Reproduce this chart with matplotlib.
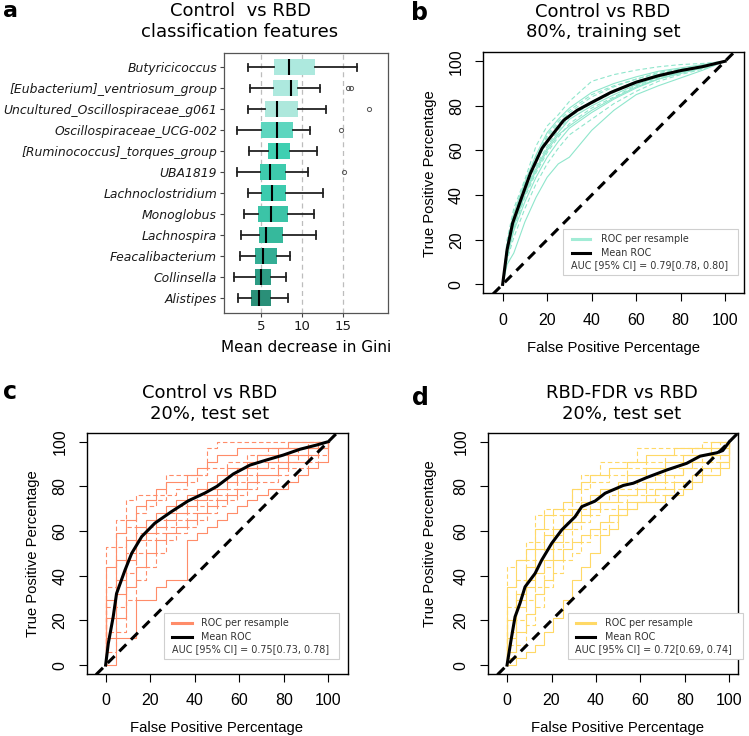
import matplotlib

matplotlib.use("Agg")
import matplotlib.pyplot as plt
from matplotlib.lines import Line2D
from matplotlib.patches import Rectangle

plt.rcParams["font.family"] = "DejaVu Sans"

# ---- panel a: feature importance (mean decrease in Gini) ----
features = [
    "Butyricicoccus", "[Eubacterium]_ventriosum_group",
    "Uncultured_Oscillospiraceae_g061", "Oscillospiraceae_UCG-002",
    "[Ruminococcus]_torques_group", "UBA1819", "Lachnoclostridium",
    "Monoglobus", "Lachnospira", "Feacalibacterium", "Collinsella", "Alistipes",
]
gini_whislo = [3.4, 3.6, 3.4, 2.1, 3.5, 2.1, 3.4, 2.9, 2.5, 2.4, 1.7, 2.2]
gini_q1 = [6.6, 6.5, 5.5, 5.0, 5.8, 4.9, 5.0, 4.6, 4.7, 4.25, 4.3, 3.8]
gini_med = [8.4, 8.7, 7.0, 6.9, 7.0, 6.1, 6.4, 6.2, 5.6, 5.3, 5.0, 4.7]
gini_q3 = [11.6, 9.5, 9.5, 8.9, 8.5, 8.0, 8.1, 8.25, 7.7, 6.9, 6.2, 6.2]
gini_whishi = [16.75, 12.25, 13.0, 11.0, 11.9, 10.7, 12.6, 11.5, 11.75, 8.5, 8.0, 8.3]
gini_fliers = [[], [15.6, 16.0], [18.2], [14.8], [], [15.1], [], [], [], [], [], []]
box_colors = ["#ade9de", "#ade9de", "#ade8dc", "#5ed6bf", "#3fcfb1", "#3ecbad",
              "#3ccbae", "#3bc4a7", "#36b99c", "#33ad94", "#2d9c84", "#2a8f78"]
gini_ticks = [5, 10, 15]

# ---- panel b: 80% training set ----
b_fpr = [0, 2, 5, 10, 15, 20, 25, 30, 40, 50, 60, 70, 80, 90, 100]
b_resamples = [
    [0, 20, 34, 47, 62, 71, 76, 82, 91, 94, 96, 97.5, 98.5, 99, 100],
    [0, 18, 32, 46, 58, 68, 74, 79, 86, 90, 93, 95.5, 97, 98.5, 100],
    [0, 17, 31, 45, 57, 66, 72, 77, 84, 88.5, 92, 95, 96.5, 98, 100],
    [0, 16, 30, 44, 55, 64, 71, 76, 82, 87, 91, 94, 96, 98, 100],
    [0, 15, 28, 42, 53, 62, 69, 75, 81, 86, 90, 93, 95.5, 97.5, 100],
    [0, 14, 27, 41, 52, 61, 68, 74, 80, 85, 89.5, 93, 95.5, 97.5, 100],
    [0, 13, 25, 39, 50, 59, 66, 72, 79, 84, 89, 92.5, 95, 97, 100],
    [0, 12, 24, 37, 48, 57, 64, 70, 77, 83, 88, 92, 94.5, 97, 100],
    [0, 11, 21, 34, 45, 54, 61, 67, 74, 81, 86.5, 91, 94, 96.5, 100],
    [0, 9, 14, 28, 39, 48, 54, 57, 69, 78, 85, 89, 92.5, 96, 100],
    [0, 17, 30, 43, 56, 67, 73, 78, 85, 89, 92, 94.5, 96.5, 98, 100],
    [0, 14, 26, 40, 51, 60, 67, 71, 78, 83.5, 88.5, 92, 95, 97.5, 100],
]
b_mean_fpr = [0, 2, 4.5, 8.7, 12.5, 17.7, 21.5, 27.5, 33.5, 40, 48.6, 60, 70, 80, 90, 100]
b_mean_tpr = [0, 15.6, 27.5, 39.4, 49.8, 61, 66, 73.6, 78, 81.5, 86, 90.6, 93.5, 95.8, 97.6, 100]

# ---- panel c: 20% test set, Control vs RBD ----
c_fpr = [0, 4.55, 9.09, 13.64, 18.18, 22.73, 27.27, 31.82, 36.36, 40.91, 45.45, 50,
         54.55, 59.09, 63.64, 68.18, 72.73, 77.27, 81.82, 86.36, 90.91, 95.45, 100]
c_resamples = [
    [53, 65, 74, 76, 76, 76, 85, 85, 85, 85, 97, 100, 100, 100, 100, 100, 100, 100, 100, 100, 100, 100, 100],
    [44, 59, 65, 71, 74, 79, 82, 82, 85, 88, 91, 94, 94, 97, 97, 97, 97, 97, 100, 100, 100, 100, 100],
    [35, 53, 62, 68, 71, 74, 76, 79, 82, 85, 88, 88, 91, 91, 94, 94, 97, 97, 97, 97, 100, 100, 100],
    [29, 47, 56, 62, 65, 68, 71, 74, 76, 79, 82, 85, 88, 88, 91, 94, 94, 97, 97, 97, 97, 100, 100],
    [26, 38, 50, 59, 62, 65, 68, 71, 74, 76, 79, 82, 85, 88, 88, 91, 91, 94, 94, 97, 97, 100, 100],
    [21, 32, 47, 56, 59, 62, 65, 68, 71, 74, 76, 79, 82, 85, 88, 88, 91, 91, 94, 94, 97, 97, 100],
    [15, 26, 41, 50, 56, 59, 62, 65, 68, 71, 74, 76, 79, 82, 85, 88, 88, 91, 91, 94, 94, 97, 100],
    [12, 21, 35, 44, 50, 56, 59, 62, 65, 68, 71, 74, 76, 79, 82, 85, 85, 88, 91, 91, 94, 97, 100],
    [6, 15, 29, 38, 44, 50, 56, 59, 62, 65, 68, 71, 74, 76, 79, 82, 82, 85, 88, 88, 91, 94, 100],
    [0, 12, 12, 29, 29, 35, 38, 38, 56, 59, 62, 65, 68, 71, 74, 76, 79, 79, 82, 85, 88, 91, 100],
]
c_mean_fpr = [0, 1.2, 3.4, 4.9, 8.7, 11.7, 16.2, 22.1, 29.6, 37.1, 44.6, 50, 57.3,
              64.8, 72.3, 79.8, 87.3, 94.8, 100]
c_mean_tpr = [0, 9.7, 21.6, 32, 42.5, 50, 57.5, 63.5, 68.7, 73.5, 77, 80, 85.5,
              89.5, 91.8, 94, 96.6, 98.5, 100]

# ---- panel d: 20% test set, RBD-FDR vs RBD ----
d_fpr = [0, 4.17, 8.33, 12.5, 16.67, 20.83, 25, 29.17, 33.33, 37.5, 41.67, 45.83, 50,
         54.17, 58.33, 62.5, 66.67, 70.83, 75, 79.17, 83.33, 87.5, 91.67, 95.83, 100]
d_resamples = [
    [44, 47, 55, 67, 70, 70, 70, 79, 85, 85, 91, 91, 91, 91, 97, 97, 97, 97, 97, 97, 97, 100, 100, 100, 100],
    [35, 47, 52, 61, 67, 70, 73, 79, 82, 85, 85, 88, 88, 91, 91, 94, 94, 94, 97, 97, 97, 97, 100, 100, 100],
    [26, 38, 47, 55, 61, 67, 70, 73, 79, 82, 82, 85, 85, 88, 88, 91, 91, 94, 94, 94, 97, 97, 97, 100, 100],
    [20, 32, 44, 52, 58, 61, 67, 70, 73, 76, 79, 79, 82, 85, 85, 88, 88, 91, 91, 94, 94, 94, 97, 97, 100],
    [15, 29, 38, 47, 52, 58, 64, 67, 70, 73, 73, 76, 79, 79, 82, 82, 85, 88, 88, 91, 91, 94, 94, 97, 100],
    [12, 26, 35, 41, 47, 55, 61, 64, 67, 70, 73, 73, 76, 76, 79, 82, 82, 85, 85, 88, 91, 91, 94, 94, 100],
    [9, 20, 29, 35, 44, 52, 55, 61, 64, 67, 70, 70, 73, 76, 76, 79, 79, 82, 85, 88, 88, 91, 91, 94, 100],
    [6, 15, 23, 32, 38, 47, 52, 55, 58, 61, 64, 67, 70, 73, 73, 76, 79, 79, 82, 82, 85, 88, 88, 91, 100],
    [3, 9, 18, 26, 35, 41, 47, 50, 55, 58, 61, 64, 67, 70, 73, 73, 76, 76, 79, 82, 85, 85, 88, 91, 100],
    [0, 3, 6, 9, 15, 21, 29, 38, 44, 50, 58, 61, 67, 70, 73, 73, 73, 76, 76, 79, 82, 85, 85, 88, 100],
]
d_mean_fpr = [0, 1.8, 3.6, 5.8, 8.1, 12.6, 15.6, 20.1, 24.6, 30.6, 33.6, 39.6, 44.1,
              52.3, 56.8, 63, 71.8, 80.8, 86.8, 94.3, 97, 100]
d_mean_tpr = [0, 11.2, 21.6, 27.6, 35, 41, 47, 54.5, 60.5, 66.4, 70.9, 73.4, 76.9,
              80.4, 81.4, 84, 87.3, 90.3, 93.5, 95, 96, 100]

roc_ticks = [0, 20, 40, 60, 80, 100]

W, H = 749, 736
fig = plt.figure(figsize=(W / 100, H / 100), dpi=100)


def fx(px):
    return px / W


def fy(py):
    return 1 - py / H


def axes_px(left, top, right, bottom):
    return fig.add_axes([fx(left), fy(bottom), (right - left) / W, (bottom - top) / H])


def ftext(px, py, s, **kw):
    fig.text(fx(px), fy(py), s, ha=kw.pop("ha", "center"), va=kw.pop("va", "center"), **kw)


# ---------------- panel a ----------------
ax = axes_px(224, 52.7, 387.7, 312.7)
pos = list(range(1, len(features) + 1))
stats = []
for i, name in enumerate(features):
    stats.append(dict(label=name, med=gini_med[i], q1=gini_q1[i], q3=gini_q3[i],
                      whislo=gini_whislo[i], whishi=gini_whishi[i], fliers=gini_fliers[i]))
for g in gini_ticks:
    ax.axvline(g, color="#bdbdbd", lw=0.9, ls=(0, (4, 3)), zorder=0)
bp = ax.bxp(stats, positions=pos, widths=0.76, orientation="horizontal", patch_artist=True,
            capwidths=0.36,
            boxprops=dict(linewidth=0),
            medianprops=dict(color="black", linewidth=1.5),
            whiskerprops=dict(color="#222222", linewidth=1.3),
            capprops=dict(color="#222222", linewidth=1.3),
            flierprops=dict(marker="o", markerfacecolor="none", markeredgecolor="#555555",
                            markersize=3, markeredgewidth=0.7))
for patch, col in zip(bp["boxes"], box_colors):
    patch.set_facecolor(col)
    patch.set_edgecolor(col)
ax.set_xlim(0.47, 20.5)
ax.set_ylim(12.7, 0.3)
ax.set_xticks(gini_ticks)
ax.set_xticklabels([str(t) for t in gini_ticks], fontsize=9.5, color="#1a1a1a")
ax.set_yticks(pos)
ax.set_yticklabels(features, fontsize=8.95, style="italic", color="#1a1a1a")
ax.tick_params(axis="both", length=3, width=0.8, color="#444444", pad=2)
for s in ax.spines.values():
    s.set_color("#555555")
    s.set_linewidth(0.9)
ftext(306, 348, "Mean decrease in Gini", fontsize=11)
ftext(240, 11.5, "Control  vs RBD", fontsize=13)
ftext(240, 32.3, "classification features", fontsize=13)
ftext(10, 11, "a", fontsize=16, fontweight="bold")


# ---------------- ROC panels ----------------
def roc_panel(box, xlim, fpr, curves, color, mfpr, mtpr, steps):
    ax = axes_px(*box)
    for i, tpr in enumerate(curves):
        ls = "-" if i % 2 else (0, (4, 2.5))
        if steps:
            ax.plot([0] + fpr, [0] + tpr, drawstyle="steps-post", color=color, lw=0.8, ls=ls, zorder=1)
        else:
            ax.plot(fpr, tpr, color=color, lw=0.8, ls=ls, zorder=1)
    ax.plot([-20, 120], [-20, 120], color="black", lw=2.2, dashes=(3.2, 2.2), zorder=2)
    ax.plot(mfpr, mtpr, color="black", lw=2.2, zorder=3, solid_joinstyle="round")
    ax.set_xlim(*xlim)
    ax.set_ylim(-4, 104)
    ax.set_xticks(roc_ticks)
    ax.set_yticks(roc_ticks)
    ax.set_xticklabels([str(t) for t in roc_ticks], fontsize=11.5, family="Liberation Sans")
    ax.set_yticklabels([str(t) for t in roc_ticks], fontsize=11.5, family="Liberation Sans",
                       rotation=90, va="center")
    ax.tick_params(axis="both", length=6, width=0.8, pad=8)
    for s in ax.spines.values():
        s.set_linewidth(1.0)
    return ax


def roc_legend(left, top, right, bottom, lx0, lx1, tx, ax0, color, auc):
    fig.add_artist(Rectangle((fx(left), fy(bottom)), (right - left) / W, (bottom - top) / H,
                             transform=fig.transFigure, facecolor="white", edgecolor="#cfcfcf",
                             linewidth=0.8, zorder=5))
    rows = [top + 9.5, top + 24, top + 35.5]
    fig.add_artist(Line2D([fx(lx0), fx(lx1)], [fy(rows[0])] * 2, color=color, lw=2.2, zorder=6))
    fig.add_artist(Line2D([fx(lx0), fx(lx1)], [fy(rows[1])] * 2, color="black", lw=2.2, zorder=6))
    ftext(tx, rows[0], "ROC per resample", ha="left", fontsize=6.9, color="#333333", zorder=7)
    ftext(tx, rows[1], "Mean ROC", ha="left", fontsize=6.9, color="#333333", zorder=7)
    ftext(ax0, rows[2], "AUC [95% CI] = " + auc, ha="left", fontsize=6.9, color="#333333", zorder=7)


# b
roc_panel((483.3, 52.3, 744, 293.3), (-8.7, 108.5), b_fpr, b_resamples, "#8fe6cc",
          b_mean_fpr, b_mean_tpr, steps=False)
roc_legend(563, 229.3, 737.7, 275.3, 571.7, 590, 600.7, 570.7, "#a2ecd6", "0.79[0.78, 0.80]")
ftext(603, 11.7, "Control vs RBD", fontsize=13)
ftext(603, 32.3, "80%, training set", fontsize=13)
ftext(613.5, 347.7, "False Positive Percentage", fontsize=10.7, family="Liberation Sans")
ftext(430, 173.3, "True Positive Percentage", fontsize=10.7, family="Liberation Sans", rotation=90)
ftext(420, 12.5, "b", fontsize=17, fontweight="bold")

# c
roc_panel((86.7, 432.7, 347.7, 674), (-8.5, 108.7), c_fpr, c_resamples, "#ff8c69",
          c_mean_fpr, c_mean_tpr, steps=True)
roc_legend(164.3, 613.3, 339.3, 659, 172.3, 191.7, 201.3, 172, "#ff8c69", "0.75[0.73, 0.78]")
ftext(209.7, 392.7, "Control vs RBD", fontsize=13)
ftext(209.7, 414.3, "20%, test set", fontsize=13)
ftext(216.8, 728.3, "False Positive Percentage", fontsize=10.7, family="Liberation Sans")
ftext(33.3, 553.3, "True Positive Percentage", fontsize=10.7, family="Liberation Sans", rotation=90)
ftext(10, 391.7, "c", fontsize=17, fontweight="bold")

# d
roc_panel((487.7, 432.7, 738.3, 674), (-8.7, 104), d_fpr, d_resamples, "#ffd966",
          d_mean_fpr, d_mean_tpr, steps=True)
roc_legend(567.7, 613.3, 742.7, 659, 576, 595, 605, 575, "#ffd966", "0.72[0.69, 0.74]")
ftext(622, 392.7, "RBD-FDR vs RBD", fontsize=13)
ftext(622, 414.3, "20%, test set", fontsize=13)
ftext(617.8, 728.3, "False Positive Percentage", fontsize=10.7, family="Liberation Sans")
ftext(430, 543.3, "True Positive Percentage", fontsize=10.7, family="Liberation Sans", rotation=90)
ftext(420, 398, "d", fontsize=17, fontweight="bold")

fig.savefig("out.png", dpi=100)
